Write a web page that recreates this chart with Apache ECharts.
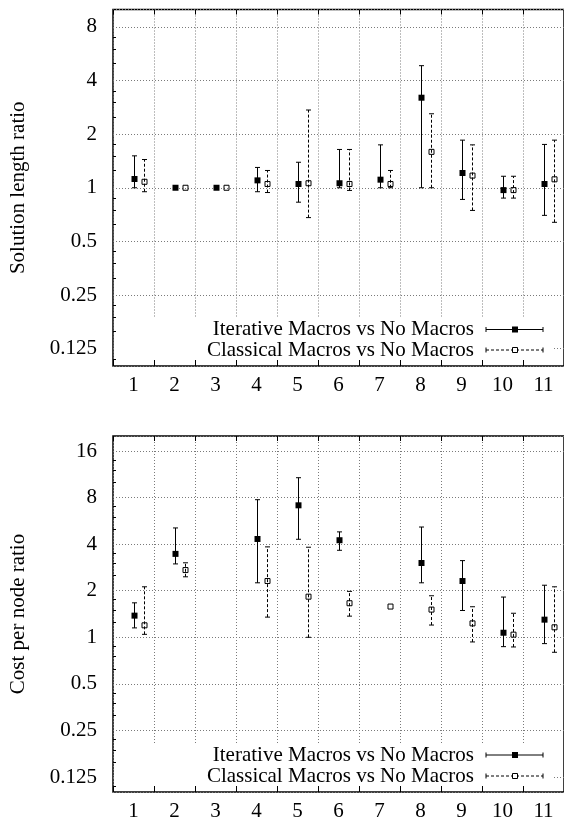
<!DOCTYPE html>
<html>
<head>
<meta charset="utf-8">
<title>Macro ratios</title>
<script src="https://cdn.jsdelivr.net/npm/echarts@6/dist/echarts.min.js"></script>
<style>
  html, body { margin: 0; padding: 0; background: #fff; }
  #chart { width: 564px; height: 823px; }
</style>
</head>
<body>
<div id="chart"></div>
<script>
const categories = ['1', '2', '3', '4', '5', '6', '7', '8', '9', '10', '11'];
const lenTicks = [0.125, 0.25, 0.5, 1, 2, 4, 8];
const costTicks = [0.125, 0.25, 0.5, 1, 2, 4, 8, 16];
const legendNames = ['Iterative Macros vs No Macros', 'Classical Macros vs No Macros'];

// solution length ratio (top)
const lenIterMean = [1.12, 1.0, 1.0, 1.10, 1.05, 1.06, 1.11, 3.2, 1.21, 0.97, 1.05];
const lenIterLow = [1.0, 1.0, 1.0, 0.95, 0.83, 1.0, 1.0, 1.0, 0.86, 0.875, 0.70];
const lenIterHigh = [1.51, 1.0, 1.0, 1.30, 1.39, 1.64, 1.74, 4.84, 1.85, 1.16, 1.75];
const lenClasMean = [1.08, 1.0, 1.0, 1.05, 1.06, 1.05, 1.05, 1.59, 1.17, 0.97, 1.115];
const lenClasLow = [0.95, 1.0, 1.0, 0.94, 0.68, 0.966, 1.0, 1.0, 0.746, 0.875, 0.64];
const lenClasHigh = [1.44, 1.0, 1.0, 1.25, 2.73, 1.64, 1.25, 2.6, 1.74, 1.16, 1.85];

// cost per node ratio (bottom)
const costIterMean = [1.38, 3.46, null, 4.32, 7.13, 4.24, null, 3.02, 2.31, 1.07, 1.30];
const costIterLow = [1.15, 2.98, null, 2.25, 4.3, 3.65, null, 2.25, 1.49, 0.87, 0.91];
const costIterHigh = [1.67, 5.09, null, 7.75, 10.75, 4.8, null, 5.16, 3.13, 1.82, 2.17];
const costClasMean = [1.195, 2.72, null, 2.31, 1.83, 1.66, 1.58, 1.51, 1.23, 1.04, 1.16];
const costClasLow = [1.045, 2.46, null, 1.35, 1.0, 1.37, 1.58, 1.2, 0.933, 0.866, 0.8];
const costClasHigh = [2.12, 3.03, null, 3.84, 3.82, 1.98, 1.58, 1.855, 1.575, 1.43, 2.12];

const font = 'Liberation Serif';
const gridColor = '#7a7a7a';

function rows(mean, low, high) {
    const out = [];
    for (let i = 0; i < mean.length; i++) {
        if (mean[i] == null) continue;
        out.push([i, mean[i], low[i], high[i]]);
    }
    return out;
}

// error bar + marker, classical ones sit a quarter band to the right
function errorBar(classical) {
    return function (params, api) {
        const cat = api.value(0);
        const band = api.size([1, 0], [cat, 1])[0];
        const p = api.coord([cat, api.value(1)]);
        const lo = api.coord([cat, api.value(2)]);
        const hi = api.coord([cat, api.value(3)]);
        const x = Math.round(p[0] + (classical ? band * 0.25 : 0)) + 0.5;
        const line = { stroke: '#000', lineWidth: 1, lineDash: classical ? [3, 2] : null };
        const cap = { stroke: '#000', lineWidth: 1 };
        const children = [];
        if (Math.abs(hi[1] - lo[1]) > 0.5) {
            children.push(
                { type: 'line', shape: { x1: x, y1: lo[1], x2: x, y2: hi[1] }, style: line },
                { type: 'line', shape: { x1: x - 2.5, y1: lo[1], x2: x + 2.5, y2: lo[1] }, style: cap },
                { type: 'line', shape: { x1: x - 2.5, y1: hi[1], x2: x + 2.5, y2: hi[1] }, style: cap }
            );
        }
        if (classical) {
            children.push({ type: 'rect', shape: { x: x - 2.5, y: p[1] - 2.5, width: 5, height: 5 },
                style: { fill: null, stroke: '#000', lineWidth: 1 } });
        } else {
            children.push({ type: 'rect', shape: { x: x - 3, y: p[1] - 3, width: 6, height: 6 },
                style: { fill: '#000' } });
        }
        return { type: 'group', children: children };
    };
}

function xAxisCfg(gridIndex, top) {
    return {
        type: 'category', gridIndex: gridIndex, data: categories,
        position: top ? 'top' : 'bottom', boundaryGap: true,
        axisLine: { show: false },
        axisTick: { show: true, inside: true, interval: 0, length: top ? 5 : 6, lineStyle: { color: '#000' } },
        axisLabel: { show: !top, interval: 0, margin: 9, color: '#000', fontFamily: font, fontSize: 21 },
        splitLine: { show: !top, interval: 0, lineStyle: { color: gridColor, type: [1, 2] } }
    };
}

function yAxisCfg(gridIndex, name, max, ticks) {
    return {
        type: 'log', logBase: 2, gridIndex: gridIndex, min: 0.1, max: max,
        name: name, nameLocation: 'middle', nameGap: 84,
        nameTextStyle: { fontFamily: font, fontSize: 21, color: '#000' },
        axisLine: { show: false },
        axisTick: { inside: true, length: 6, lineStyle: { color: '#000' } },
        minorTick: { show: true, splitNumber: 4, length: 3, lineStyle: { color: '#000' } },
        axisLabel: {
            margin: 16, color: '#000', fontFamily: font, fontSize: 21,
            formatter: function (v) {
                const hit = ticks.find(function (t) { return Math.abs(t - v) < 1e-6 * t; });
                return hit === undefined ? '' : String(hit);
            }
        },
        splitLine: { lineStyle: { color: gridColor, type: [1, 2] } }
    };
}

// opaque key box, like gnuplot's
function keyBox(top, bottom, y1, y2) {
    const z = 50;
    const txt = function (y, s) {
        return { type: 'text', z: z, x: 474, y: y,
            style: { text: s, fill: '#000', font: '21px "' + font + '"', textAlign: 'right', textVerticalAlign: 'middle' } };
    };
    const ln = function (x1, ya, x2, yb, dash) {
        return { type: 'line', z: z, shape: { x1: x1, y1: ya, x2: x2, y2: yb },
            style: { stroke: '#000', lineWidth: 1, lineDash: dash || null } };
    };
    return [
        { type: 'rect', z: z - 1, shape: { x: 116, y: top, width: 437, height: bottom - top }, style: { fill: '#fff' } },
        txt(y1, legendNames[0]),
        ln(486, y1, 543, y1), ln(486, y1 - 2.5, 486, y1 + 2.5), ln(543, y1 - 2.5, 543, y1 + 2.5),
        { type: 'rect', z: z, shape: { x: 512, y: y1 - 3, width: 6, height: 6 }, style: { fill: '#000' } },
        txt(y2, legendNames[1]),
        ln(486, y2, 543, y2, [3, 2]), ln(486, y2 - 2.5, 486, y2 + 2.5), ln(543, y2 - 2.5, 543, y2 + 2.5),
        { type: 'rect', z: z, shape: { x: 512.5, y: y2 - 2.5, width: 5, height: 5 }, style: { fill: '#fff', stroke: '#000', lineWidth: 1 } }
    ];
}

const chart = echarts.init(document.getElementById('chart'), null, { renderer: 'canvas' });

const option = {
    animation: false,
    backgroundColor: '#fff',
    grid: [
        { left: 110, top: 9.5, width: 458, height: 356.5, show: true, borderColor: '#000', borderWidth: 1.5, containLabel: false },
        { left: 110, top: 436, width: 458, height: 356, show: true, borderColor: '#000', borderWidth: 1.5, containLabel: false }
    ],
    xAxis: [xAxisCfg(0, false), xAxisCfg(1, false), xAxisCfg(0, true), xAxisCfg(1, true)],
    yAxis: [
        yAxisCfg(0, 'Solution length ratio', 10, lenTicks),
        yAxisCfg(1, 'Cost per node ratio', 20, costTicks)
    ],
    graphic: keyBox(318, 360, 329.5, 350).concat(keyBox(743, 786, 755, 776)),
    series: [
        { name: legendNames[0], type: 'custom', xAxisIndex: 0, yAxisIndex: 0, renderItem: errorBar(false),
          data: rows(lenIterMean, lenIterLow, lenIterHigh), encode: { x: 0, y: [1, 2, 3] }, clip: false, z: 5 },
        { name: legendNames[1], type: 'custom', xAxisIndex: 0, yAxisIndex: 0, renderItem: errorBar(true),
          data: rows(lenClasMean, lenClasLow, lenClasHigh), encode: { x: 0, y: [1, 2, 3] }, clip: false, z: 5 },
        { name: legendNames[0], type: 'custom', xAxisIndex: 1, yAxisIndex: 1, renderItem: errorBar(false),
          data: rows(costIterMean, costIterLow, costIterHigh), encode: { x: 0, y: [1, 2, 3] }, clip: false, z: 5 },
        { name: legendNames[1], type: 'custom', xAxisIndex: 1, yAxisIndex: 1, renderItem: errorBar(true),
          data: rows(costClasMean, costClasLow, costClasHigh), encode: { x: 0, y: [1, 2, 3] }, clip: false, z: 5 }
    ]
};

chart.setOption(option);
</script>
</body>
</html>
